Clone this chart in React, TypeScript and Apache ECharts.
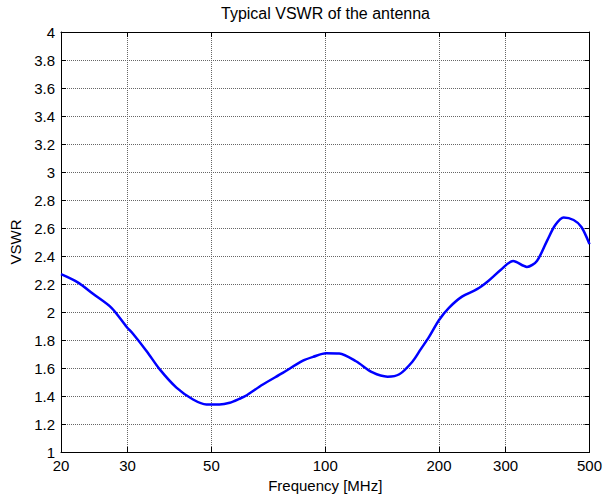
import React, { useEffect, useRef } from "react";
import * as echarts from "echarts";

const freqMHz = [20, 22.2, 24.3, 27.2, 29.8, 31.0, 33.7, 36.5, 40.4, 44.7, 48.5, 52.5, 55.9, 59.3, 62, 68.2, 77.2, 87.3, 93, 100.5, 108.9, 120.6, 133.4, 146.2, 157, 170, 178.8, 188, 200, 212.4, 230, 252, 270, 291, 314, 341.6, 363, 386.6, 406, 427, 454, 476, 500];
const vswr = [2.27, 2.21, 2.13, 2.03, 1.895, 1.845, 1.72, 1.59, 1.46, 1.375, 1.34, 1.34, 1.352, 1.38, 1.405, 1.48, 1.565, 1.652, 1.68, 1.705, 1.703, 1.648, 1.568, 1.538, 1.555, 1.645, 1.733, 1.82, 1.943, 2.03, 2.11, 2.163, 2.222, 2.3, 2.364, 2.322, 2.365, 2.512, 2.621, 2.675, 2.657, 2.607, 2.485];
const xTicks = [20, 30, 50, 100, 200, 300, 500];
const yMin = 1;
const yMax = 4;
const yStep = 0.2;

const FONT = "'Liberation Sans', Arial, sans-serif";

export default function App() {
  const ref = useRef<HTMLDivElement>(null);
  useEffect(() => {
    if (!ref.current) return;
    const chart = echarts.init(ref.current, undefined, { renderer: "svg" });
    const gridLine = { show: true, lineStyle: { color: "#666", type: [1, 1] as any, width: 1 } };
    const axisLine = { show: true, onZero: false, lineStyle: { color: "#000", width: 1 } };
    const tick = (custom?: number[]) => ({
      show: true,
      inside: true,
      length: 5,
      lineStyle: { color: "#000", width: 1 },
      ...(custom ? { customValues: custom } : {}),
    });
    const data = freqMHz.map((f, i) => [f, vswr[i]]);
    chart.setOption({
      animation: false,
      backgroundColor: "#fff",
      textStyle: { fontFamily: FONT },
      title: {
        text: "Typical VSWR of the antenna",
        left: 221,
        top: 5,
        padding: 0,
        textStyle: { fontFamily: FONT, fontSize: 16, fontWeight: "normal", color: "#000" },
      },
      grid: { left: 61, right: 14, top: 32, bottom: 47, containLabel: false },
      xAxis: [
        {
          type: "log",
          logBase: 10,
          min: 20,
          max: 500,
          position: "bottom",
          name: "Frequency [MHz]",
          nameLocation: "middle",
          nameGap: 19,
          nameTextStyle: { fontFamily: FONT, fontSize: 15, color: "#000" },
          axisLine,
          axisTick: tick(xTicks),
          axisLabel: { customValues: xTicks, margin: 6, fontFamily: FONT, fontSize: 15, color: "#000" },
          splitLine: gridLine,
          minorTick: { show: false },
        },
        {
          type: "log",
          logBase: 10,
          min: 20,
          max: 500,
          position: "top",
          axisLine,
          axisTick: tick(xTicks),
          axisLabel: { show: false, customValues: xTicks },
          splitLine: { show: false },
        },
      ],
      yAxis: [
        {
          type: "value",
          min: yMin,
          max: yMax,
          interval: yStep,
          position: "left",
          name: "VSWR",
          nameLocation: "middle",
          nameGap: 36,
          nameTextStyle: { fontFamily: FONT, fontSize: 15, color: "#000" },
          axisLine,
          axisTick: tick(),
          axisLabel: { margin: 6, fontFamily: FONT, fontSize: 15, color: "#000" },
          splitLine: gridLine,
        },
        {
          type: "value",
          min: yMin,
          max: yMax,
          interval: yStep,
          position: "right",
          axisLine,
          axisTick: tick(),
          axisLabel: { show: false },
          splitLine: { show: false },
        },
      ],
      series: [
        {
          type: "line",
          xAxisIndex: 0,
          yAxisIndex: 0,
          data,
          smooth: 0.3,
          showSymbol: false,
          symbol: "none",
          lineStyle: { color: "#0000ff", width: 2.5 },
        },
      ],
    });
    return () => chart.dispose();
  }, []);
  return (
    <div
      ref={ref}
      style={{ position: "fixed", left: 0, top: 0, width: 605, height: 499, background: "#fff" }}
    />
  );
}
